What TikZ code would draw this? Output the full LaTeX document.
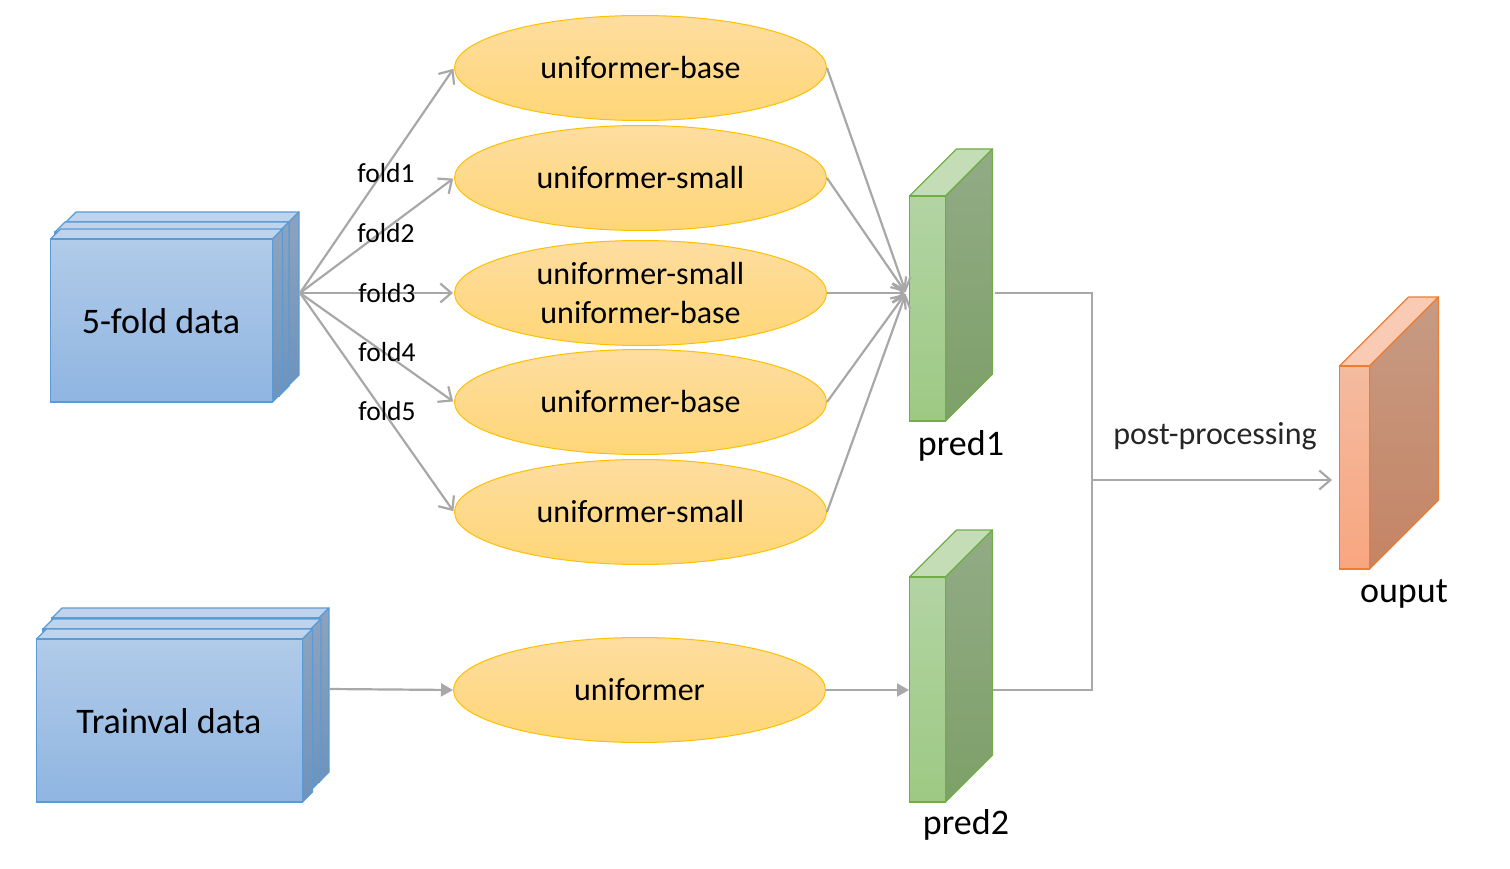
\documentclass[tikz,border=0pt]{standalone}
\usepackage{fontspec}
\setmainfont{Carlito}
\usetikzlibrary{shapes.geometric,arrows.meta}
\definecolor{conn}{HTML}{A8A8A8}
\definecolor{blueS}{HTML}{5B9BD5}\definecolor{blueA}{HTML}{B1CBE9}\definecolor{blueB}{HTML}{8FB5E1}\definecolor{blueT}{HTML}{BFD4EC}\definecolor{blueC}{HTML}{8CA3BF}\definecolor{blueD}{HTML}{6F93BB}
\definecolor{greenS}{HTML}{70AD47}\definecolor{greenA}{HTML}{B2D4A3}\definecolor{greenB}{HTML}{9DC983}\definecolor{greenT}{HTML}{C5DDB6}\definecolor{greenC}{HTML}{92AB86}\definecolor{greenD}{HTML}{7DA068}
\definecolor{orangeS}{HTML}{ED7D31}\definecolor{orangeA}{HTML}{F4BB9F}\definecolor{orangeB}{HTML}{F8A680}\definecolor{orangeT}{HTML}{F9CBB5}\definecolor{orangeC}{HTML}{C69B84}\definecolor{orangeD}{HTML}{C58464}
\definecolor{ellA}{HTML}{FEDD9F}\definecolor{ellB}{HTML}{FFD677}\definecolor{ellS}{HTML}{FFC000}
\tikzset{
  model/.style={ellipse,draw=ellS,line width=1pt,top color=ellA,bottom color=ellB,minimum width=372pt,minimum height=105pt,inner sep=0pt,align=center,font=\fontsize{32}{39}\selectfont,text=black},
  lbl/.style={inner sep=0pt,font=\fontsize{36}{42}\selectfont,text=black},
  foldlbl/.style={inner sep=0pt,font=\fontsize{27.5}{32}\selectfont,text=black},
  fan/.style={draw=conn,line width=2.2pt,-{Straight Barb[length=11pt,width=19pt,line width=2.2pt]},shorten >=1pt},
  solidarrow/.style={draw=conn,line width=2.2pt,-{Triangle[length=12pt,width=13pt,fill=conn]}},
  plainline/.style={draw=conn,line width=2.2pt}
}
% #1 name, #2 x0, #3 y0 (front top-left), #4 w, #5 h, #6 d, #7 palette prefix
\newcommand{\cuboid}[7]{%
  \path[draw=#7S,line width=1.2pt,fill=#7T,line join=round] (#2,#3) -- (#2+#6,#3-#6) -- (#2+#4+#6,#3-#6) -- (#2+#4,#3) -- cycle;
  \path[draw=#7S,line width=1.2pt,top color=#7C,bottom color=#7D,line join=round] (#2+#4,#3) -- (#2+#4+#6,#3-#6) -- (#2+#4+#6,#3+#5-#6) -- (#2+#4,#3+#5) -- cycle;
  \node[draw=#7S,line width=1.2pt,top color=#7A,bottom color=#7B,minimum width=#4pt,minimum height=#5pt,inner sep=0pt,outer sep=0pt,anchor=north west] (#1) at (#2,#3) {};
}
\begin{document}
\begin{tikzpicture}[x=1pt,y=-1pt]
\useasboundingbox (0,0) rectangle (1510,869);
% data stacks
\cuboid{foldC}{66}{222}{223}{163}{10}{blue}
\cuboid{foldB}{55}{232}{224}{164}{10}{blue}
\cuboid{foldA}{50.5}{239}{222}{163}{10}{blue}
\cuboid{trainC}{52}{618}{267}{164}{10}{blue}
\cuboid{trainB}{43}{629}{268}{161}{10}{blue}
\cuboid{trainA}{36.5}{639}{266}{163}{10}{blue}
\node[lbl] (foldtxt) at (161,321.5) {5-fold data};
\node[lbl] (traintxt) at (169,721.5) {Trainval data};
% models
\node[model] (m1) at (640.5,68) {uniformer-base};
\node[model] (m2) at (640.5,178) {uniformer-small};
\node[model] (m3) at (640.5,293) {uniformer-small\\uniformer-base};
\node[model] (m4) at (640.5,402) {uniformer-base};
\node[model] (m5) at (640.5,512) {uniformer-small};
\node[model] (m6) at (639.5,690) {uniformer};
% predictions and output
\cuboid{pA}{909.5}{196}{36}{225}{47}{green}
\cuboid{pB}{909.5}{577}{36}{225}{47}{green}
\cuboid{out}{1339.5}{366}{30}{203}{69}{orange}
\node[lbl] (pAtxt) at (961,446) {pred1};
\node[lbl] (pBtxt) at (966,825) {pred2};
\node[lbl] (outtxt) at (1404,594) {ouput};
\node[inner sep=0pt,font=\fontsize{32}{36}\selectfont,text=black!85] (pptxt) at (1215,436) {post-processing};
% connector points
\coordinate (src) at (300,293);
\coordinate (trainOut) at (329,689);
\coordinate (pAin) at (906,293);
\coordinate (pBin) at (909,690);
\coordinate (pAout) at (995,293);
\coordinate (pBout) at (993,690);
\coordinate (busA) at (1092,293);
\coordinate (busB) at (1092,690);
\coordinate (busM) at (1092,480);
\coordinate (outIn) at (1333,480);
% fold arrows
\draw[fan] (src) -- (m1.west);
\draw[fan] (src) -- (m2.west);
\draw[fan] (src) -- (m3.west);
\draw[fan] (src) -- (m4.west);
\draw[fan] (src) -- (m5.west);
\node[foldlbl] (f1) at (386,173) {fold1};
\node[foldlbl] (f2) at (386,233) {fold2};
\node[foldlbl] (f3) at (387,293) {fold3};
\node[foldlbl] (f4) at (387,352) {fold4};
\node[foldlbl] (f5) at (387,411) {fold5};
% into pred1
\draw[fan] (m1.east) -- (pAin);
\draw[fan] (m2.east) -- (pAin);
\draw[fan] (m3.east) -- (pAin);
\draw[fan] (m4.east) -- (pAin);
\draw[fan] (m5.east) -- (pAin);
% lower row
\draw[solidarrow] (trainOut) -- (m6.west);
\draw[solidarrow] (m6.east) -- (pBin);
% merge
\draw[plainline] (pAout) -- (busA) -- (busB) -- (pBout);
\draw[fan] (busM) -- (outIn);
\end{tikzpicture}
\end{document}
